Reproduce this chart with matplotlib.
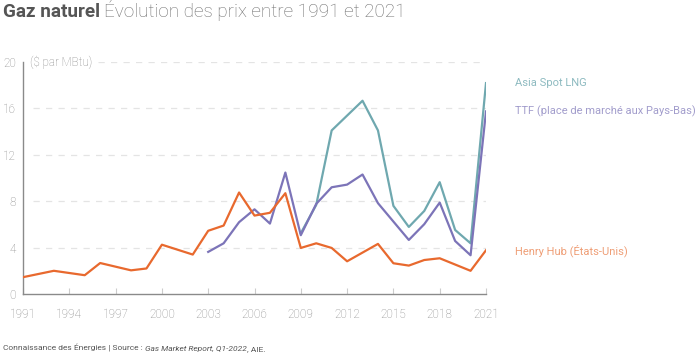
import matplotlib.pyplot as plt

plt.rcParams['font.family'] = ['Roboto', 'DejaVu Sans']

# Henry Hub (États-Unis)
hh_years = [1991, 1993, 1995, 1996, 1998, 1999, 2000, 2002, 2003, 2004, 2005, 2006, 2007,
            2008, 2009, 2010, 2011, 2012, 2014, 2015, 2016, 2017, 2018, 2020, 2021]
hh_values = [1.45, 2.0, 1.62, 2.67, 2.04, 2.2, 4.25, 3.4, 5.45, 5.9, 8.75, 6.76, 7.0,
             8.69, 3.97, 4.37, 3.97, 2.82, 4.32, 2.65, 2.45, 2.93, 3.08, 2.0, 3.77]

# TTF (place de marché aux Pays-Bas)
ttf_years = [2003, 2004, 2005, 2006, 2007, 2008, 2009, 2010, 2011, 2012, 2013, 2014,
             2016, 2017, 2018, 2019, 2020, 2021]
ttf_values = [3.63, 4.37, 6.19, 7.3, 6.07, 10.47, 5.07, 7.77, 9.2, 9.43, 10.3, 7.83,
              4.66, 6.02, 7.88, 4.57, 3.34, 15.74]

# Asia Spot LNG
lng_years = [2009, 2010, 2011, 2013, 2014, 2015, 2016, 2017, 2018, 2019, 2020, 2021]
lng_values = [5.24, 7.68, 14.1, 16.66, 14.1, 7.6, 5.78, 7.16, 9.64, 5.52, 4.37, 18.18]

xticks = list(range(1991, 2022, 3))
yticks = [0, 4, 8, 12, 16, 20]

c_hh = '#e8692e'
c_ttf = '#7c74b8'
c_lng = '#6fa8af'

fig = plt.figure(figsize=(7, 3.56), dpi=100)
ax = fig.add_axes([23 / 700, 62 / 356, 463 / 700, 232 / 356])

ax.set_xlim(1991, 2021)
ax.set_ylim(0, 20)

for y in yticks[1:]:
    start = 0.162 if y == 20 else 0.022
    ax.axhline(y, xmin=start, xmax=1, color='#e4e4e4', lw=0.9, dashes=(5, 5), zorder=0)

ax.plot(lng_years, lng_values, color=c_lng, lw=1.6, zorder=3)
ax.plot(ttf_years, ttf_values, color=c_ttf, lw=1.6, zorder=3)
ax.plot(hh_years, hh_values, color=c_hh, lw=1.6, zorder=4)

for s in ['top', 'right']:
    ax.spines[s].set_visible(False)
for s in ['left', 'bottom']:
    ax.spines[s].set_color('#8a8a8a')
    ax.spines[s].set_linewidth(1)

ax.set_xticks(xticks)
ax.set_yticks(yticks)
ax.tick_params(axis='x', direction='in', length=4, color='#cccccc', pad=10,
               labelsize=8.5, labelcolor='#8a8a8a')
ax.tick_params(axis='y', length=0, pad=5, labelsize=8.5, labelcolor='#8a8a8a')
for lab in ax.get_xticklabels() + ax.get_yticklabels():
    lab.set_fontweight('light')

ax.text(1991.45, 20, '($ par MBtu)', fontsize=8.4, color='#8a8a8a', va='center',
        fontweight='light')

lx = 2021 + 1.9
ax.text(lx, lng_values[-1], 'Asia Spot LNG', color='#8dbac0', fontsize=8,
        va='center', clip_on=False)
ax.text(lx, ttf_values[-1], 'TTF (place de marché aux Pays-Bas)', color='#a29dcc',
        fontsize=8, va='center', clip_on=False)
ax.text(lx, hh_values[-1], 'Henry Hub (États-Unis)', color='#ef9e76', fontsize=8,
        va='center', clip_on=False)

t1 = fig.text(3 / 700, 1 - 17 / 356, 'Gaz naturel', fontsize=13.6, fontweight='bold',
              color='#555555', va='baseline')
ax.annotate('Évolution des prix entre 1991 et 2021', xy=(1, 0), xycoords=t1,
            xytext=(3, 0), textcoords='offset points', fontsize=13.6, color='#6e6e6e',
            fontweight='light', va='bottom', annotation_clip=False)

f1 = fig.text(3 / 700, 1 - 351 / 356, 'Connaissance des Énergies | Source : ', fontsize=6,
              color='#555555', va='baseline')
f2 = ax.annotate('Gas Market Report, Q1-2022', xy=(1, 0), xycoords=f1, fontsize=6,
                 color='#555555', style='italic', va='bottom', annotation_clip=False)
ax.annotate(', AIE.', xy=(1, 0), xycoords=f2, fontsize=6, color='#555555',
            va='bottom', annotation_clip=False)

fig.savefig('out.png', dpi=100)
